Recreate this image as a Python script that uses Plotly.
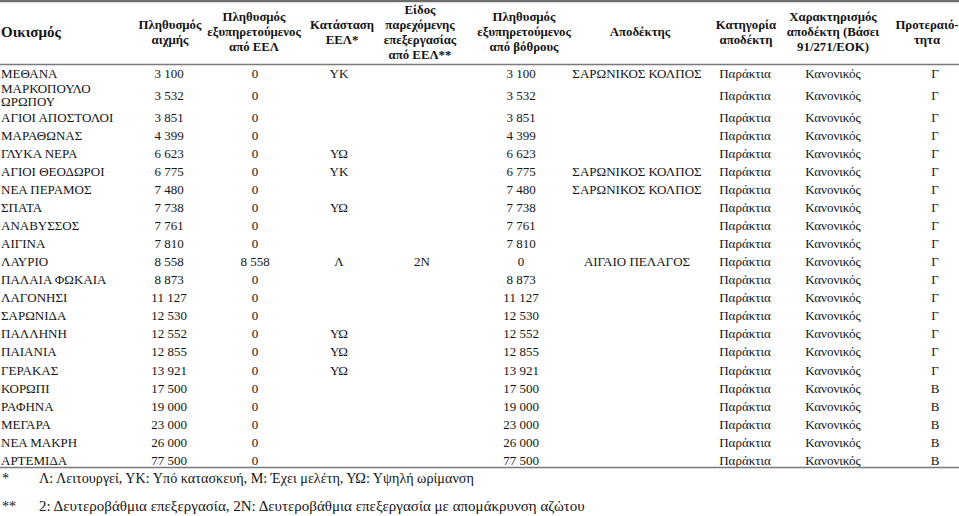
import plotly.graph_objects as go

# ---------------- data ----------------
headers = [
    ["Οικισμός"],
    ["Πληθυσμός", "αιχμής"],
    ["Πληθυσμός", "εξυπηρετούμενος", "από ΕΕΛ"],
    ["Κατάσταση", "ΕΕΛ*"],
    ["Είδος", "παρεχόμενης", "επεξεργασίας", "από ΕΕΛ**"],
    ["Πληθυσμός", "εξυπηρετούμενος", "από βόθρους"],
    ["Αποδέκτης"],
    ["Κατηγορία", "αποδέκτη"],
    ["Χαρακτηρισμός", "αποδέκτη (Βάσει", "91/271/ΕΟΚ)"],
    ["Προτεραιό-", "τητα"],
]

settlements = ["ΜΕΘΑΝΑ", "ΜΑΡΚΟΠΟΥΛΟ\nΩΡΩΠΟΥ", "ΑΓΙΟΙ ΑΠΟΣΤΟΛΟΙ", "ΜΑΡΑΘΩΝΑΣ",
               "ΓΛΥΚΑ ΝΕΡΑ", "ΑΓΙΟΙ ΘΕΟΔΩΡΟΙ", "ΝΕΑ ΠΕΡΑΜΟΣ", "ΣΠΑΤΑ", "ΑΝΑΒΥΣΣΟΣ",
               "ΑΙΓΙΝΑ", "ΛΑΥΡΙΟ", "ΠΑΛΑΙΑ ΦΩΚΑΙΑ", "ΛΑΓΟΝΗΣΙ", "ΣΑΡΩΝΙΔΑ",
               "ΠΑΛΛΗΝΗ", "ΠΑΙΑΝΙΑ", "ΓΕΡΑΚΑΣ", "ΚΟΡΩΠΙ", "ΡΑΦΗΝΑ", "ΜΕΓΑΡΑ",
               "ΝΕΑ ΜΑΚΡΗ", "ΑΡΤΕΜΙΔΑ"]
peak_population = [3100, 3532, 3851, 4399, 6623, 6775, 7480, 7738, 7761, 7810,
                   8558, 8873, 11127, 12530, 12552, 12855, 13921, 17500, 19000,
                   23000, 26000, 77500]
served_by_wwtp = [0, 0, 0, 0, 0, 0, 0, 0, 0, 0, 8558, 0, 0, 0, 0, 0, 0, 0, 0, 0, 0, 0]
wwtp_status = ["ΥΚ", "", "", "", "ΥΩ", "ΥΚ", "", "ΥΩ", "", "", "Λ", "", "", "",
               "ΥΩ", "ΥΩ", "ΥΩ", "", "", "", "", ""]
treatment_type = ["", "", "", "", "", "", "", "", "", "", "2Ν", "", "", "", "",
                  "", "", "", "", "", "", ""]
served_by_cesspits = [3100, 3532, 3851, 4399, 6623, 6775, 7480, 7738, 7761, 7810,
                      0, 8873, 11127, 12530, 12552, 12855, 13921, 17500, 19000,
                      23000, 26000, 77500]
receiver = ["ΣΑΡΩΝΙΚΟΣ ΚΟΛΠΟΣ", "", "", "", "", "ΣΑΡΩΝΙΚΟΣ ΚΟΛΠΟΣ",
            "ΣΑΡΩΝΙΚΟΣ ΚΟΛΠΟΣ", "", "", "", "ΑΙΓΑΙΟ ΠΕΛΑΓΟΣ", "", "", "", "", "",
            "", "", "", "", "", ""]
receiver_category = ["Παράκτια"] * 22
receiver_character = ["Κανονικός"] * 22
priority = ["Γ"] * 17 + ["Β"] * 5

footnote_marks = ["*", "**"]
footnote_texts = [
    "Λ: Λειτουργεί, ΥΚ: Υπό κατασκευή, Μ: Έχει μελέτη, ΥΩ: Υψηλή ωρίμανση",
    "2: Δευτεροβάθμια επεξεργασία, 2Ν: Δευτεροβάθμια επεξεργασία με απομάκρυνση αζώτου",
]

# ---------------- layout constants ----------------
W, H = 959, 516
FONT = "Liberation Serif, Times New Roman, serif"
TXT = "#141414"
col_x = [1, 169, 255, 339, 422, 521, 637, 745, 833, 935]
head_x = [1, 170, 254, 342, 420, 524, 640, 746, 833, 927]
head_size = [15.0] + [12.8] * 9
col_align = ["left"] + ["center"] * 9
HEAD_Y, HEAD_LH = 33, 15
ROW0_TOP, ROW_H, ROW_H2, LINE_H, TEXT_DY = 64, 18.05, 26.0, 13.2, 1.5
BODY_SIZE = 13.0
FOOT_SIZES = [14.2, 15.0]


def fmt(v):
    return f"{v:,}".replace(",", " ")


columns = [
    settlements,
    [fmt(v) for v in peak_population],
    [fmt(v) for v in served_by_wwtp],
    wwtp_status,
    treatment_type,
    [fmt(v) for v in served_by_cesspits],
    receiver,
    receiver_category,
    receiver_character,
    priority,
]

# row centres
n_lines = [max(len(str(c[i]).split("\n")) for c in columns) for i in range(len(settlements))]
centres = []
top = ROW0_TOP
for nl in n_lines:
    h = ROW_H if nl == 1 else ROW_H2
    centres.append(top + h / 2 + TEXT_DY)
    top += h
bottom_rule = top - 1.5

fig = go.Figure()


def add_text(xs, ys, texts, align, size, bold=False):
    fig.add_trace(go.Scatter(
        x=xs, y=ys, text=[f"<b>{t}</b>" if bold else t for t in texts],
        mode="text",
        textposition="middle right" if align == "left" else "middle center",
        textfont=dict(family=FONT, size=size, color=TXT),
        hoverinfo="skip", showlegend=False, cliponaxis=False,
    ))


# header
for ci, lines in enumerate(headers):
    n = len(lines)
    ys = [HEAD_Y + (k - (n - 1) / 2) * HEAD_LH for k in range(n)]
    add_text([head_x[ci]] * n, ys, lines, col_align[ci], head_size[ci], bold=True)

# body
for ci, col in enumerate(columns):
    xs, ys, ts = [], [], []
    for ri, val in enumerate(col):
        if val == "":
            continue
        parts = str(val).split("\n")
        m = len(parts)
        for k, p in enumerate(parts):
            xs.append(col_x[ci])
            ys.append(centres[ri] + (k - (m - 1) / 2) * LINE_H)
            ts.append(p)
    add_text(xs, ys, ts, col_align[ci], BODY_SIZE)

# footnotes
foot_y = [bottom_rule + 12, bottom_rule + 40]
for k in range(len(footnote_texts)):
    add_text([2], [foot_y[k]], [footnote_marks[k]], "left", 14.2)
    add_text([39], [foot_y[k]], [footnote_texts[k]], "left", FOOT_SIZES[k])

# rules
fig.add_shape(type="line", x0=0, x1=W, y0=1, y1=1, line=dict(color="#6e6e6e", width=2.5))
fig.add_shape(type="line", x0=0, x1=W, y0=ROW0_TOP + 0.5, y1=ROW0_TOP + 0.5,
              line=dict(color="#7a7a7a", width=1.5))
fig.add_shape(type="line", x0=0, x1=W, y0=bottom_rule, y1=bottom_rule,
              line=dict(color="#7a7a7a", width=1.5))

fig.update_xaxes(range=[0, W], visible=False, fixedrange=True)
fig.update_yaxes(range=[H, 0], visible=False, fixedrange=True)
fig.update_layout(width=W, height=H, margin=dict(l=0, r=0, t=0, b=0),
                  plot_bgcolor="white", paper_bgcolor="white")

fig.write_html("out.html", config={"displayModeBar": False},
               post_script="document.body.style.margin='0';document.body.style.overflow='hidden';")
